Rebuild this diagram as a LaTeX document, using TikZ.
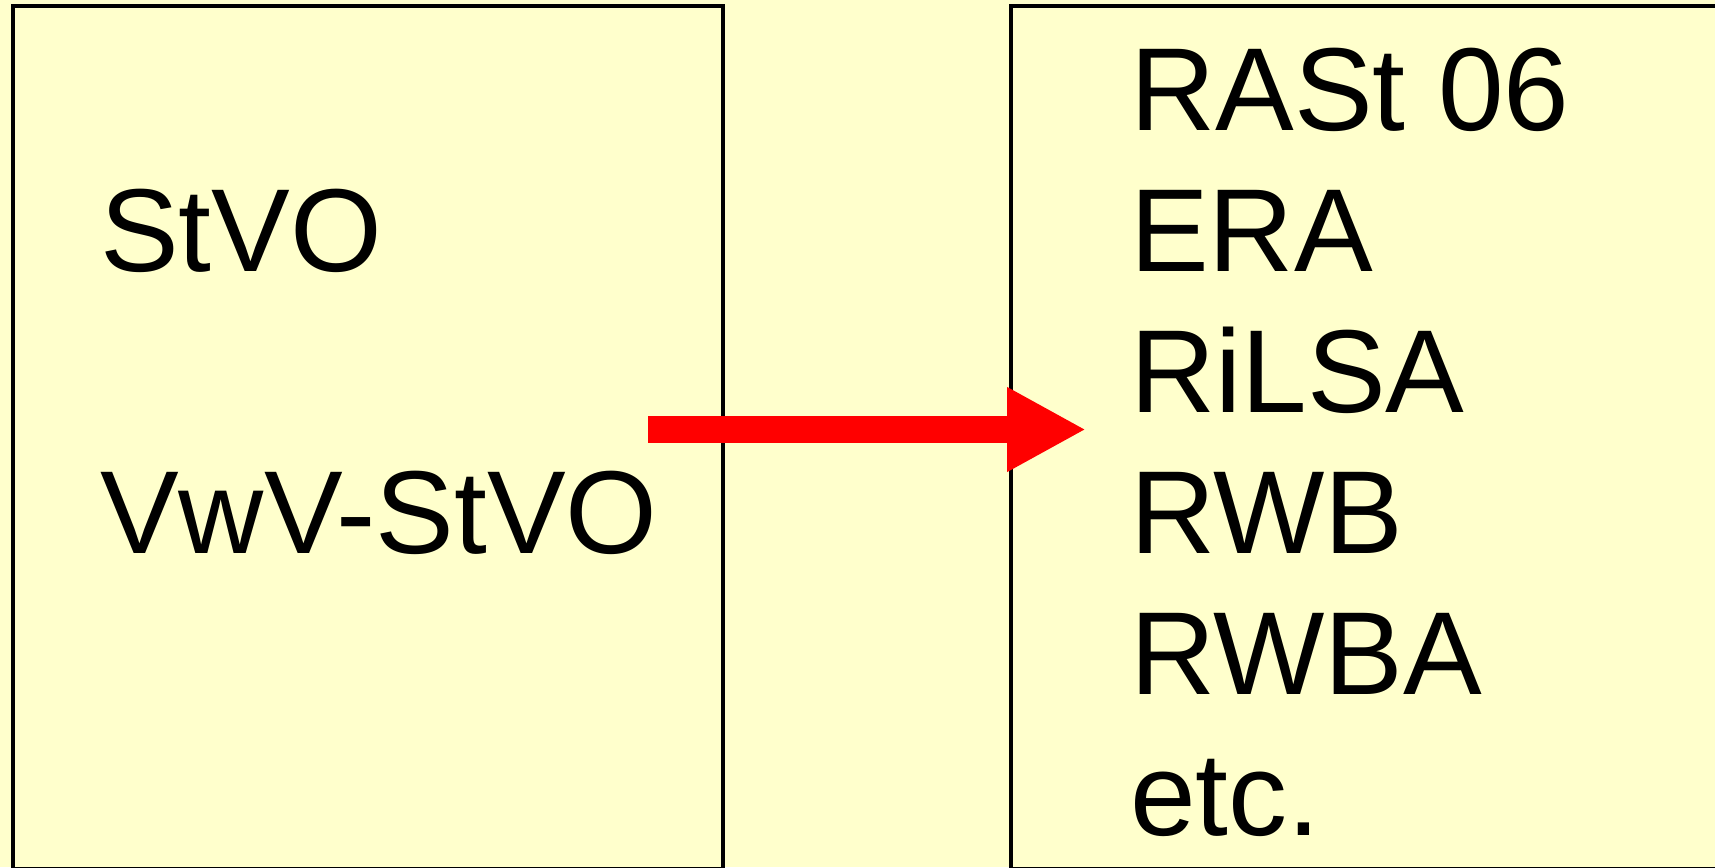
\documentclass[tikz,border=0pt]{standalone}
\usepackage{fontspec}
\setmainfont{Liberation Sans}
\usetikzlibrary{arrows.meta}
\definecolor{paper}{HTML}{FFFFCC}
\definecolor{arrowred}{HTML}{FF0000}
\tikzset{
  panel/.style={draw=black, line width=4pt, fill=paper},
  label/.style={anchor=base west, inner sep=0pt, font=\fontsize{118}{140}\selectfont},
  bigarrow/.style={draw=arrowred, line width=27pt,
    -{Triangle[length=79pt,width=79pt,fill=arrowred]}}
}
\begin{document}
\begin{tikzpicture}[x=1pt,y=-1pt]
  \useasboundingbox (0,0) rectangle (1715,867);
  \clip (0,0) rectangle (1715,867);
  \fill[paper] (0,0) rectangle (1715,867);

  % two panels, both running past the lower (and right) edge
  \draw[panel] (13,6) rectangle (723,868.5);
  \draw[panel] (1011,6) rectangle (1725,868.5);

  % left panel: the regulations
  \node[label] (stvo) at (100,271.5) {StVO};
  \node[label] (vwv)  at (100,553)   {VwV-StVO};

  % right panel: the guidelines
  \node[label] (rast)  at (1130,130.5) {RASt 06};
  \node[label] (era)   at (1130,271.5) {ERA};
  \node[label] (rilsa) at (1130,412.5) {RiLSA};
  \node[label] (rwb)   at (1130,553)   {RWB};
  \node[label] (rwba)  at (1130,694)   {RWBA};
  \node[label] (etc)   at (1130,835)   {etc.};

  % arrow from the left panel into the right one
  \coordinate (from) at (648,429.5);
  \coordinate (to)   at (1086,429.5);
  \draw[bigarrow] (from) -- (to);
\end{tikzpicture}
\end{document}
